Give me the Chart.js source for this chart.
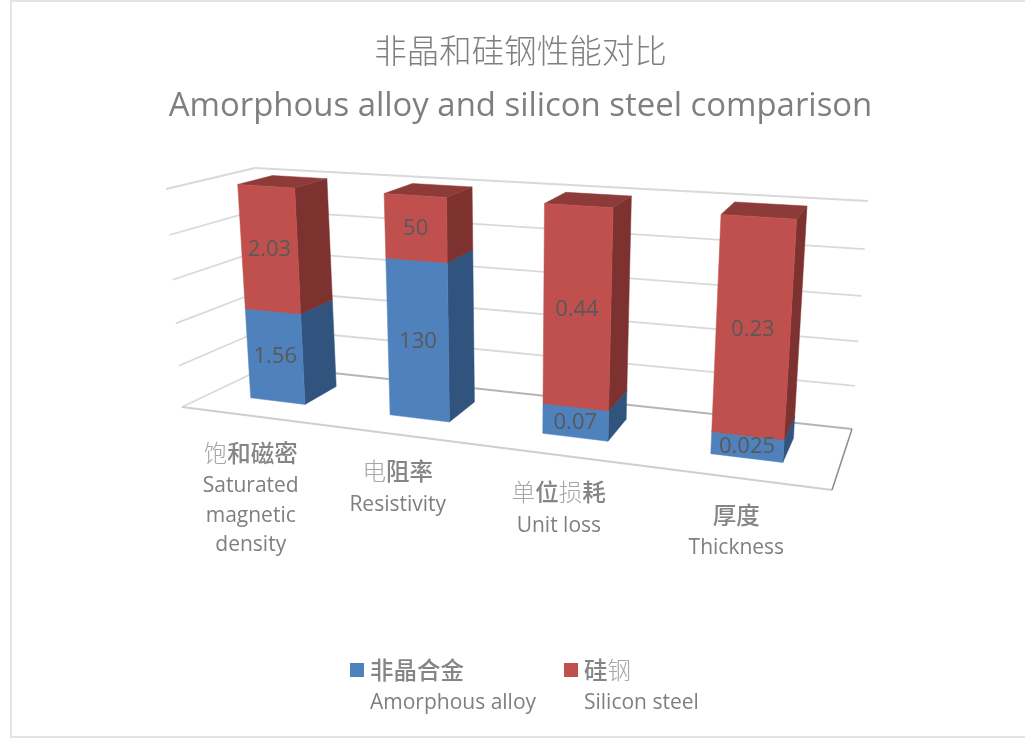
<!DOCTYPE html>
<html>
<head>
<meta charset="utf-8">
<title>非晶和硅钢性能对比</title>
<script src="https://cdn.jsdelivr.net/npm/chart.js@4"></script>
<style>
  html, body { margin: 0; padding: 0; background: #fff; }
  canvas { display: block; }
</style>
</head>
<body>
<canvas id="chart" width="1025" height="742"></canvas>
<script>
const titleZh = '非晶和硅钢性能对比';
const titleEn = 'Amorphous alloy and silicon steel comparison';
const categoriesZh = ['饱和磁密', '电阻率', '单位损耗', '厚度'];
const categoriesEn = [['Saturated', 'magnetic', 'density'], ['Resistivity'], ['Unit loss'], ['Thickness']];
const seriesZh = ['非晶合金', '硅钢'];
const seriesEn = ['Amorphous alloy', 'Silicon steel'];
const amorphousValues = [1.56, 130, 0.07, 0.025];
const siliconValues = [2.03, 50, 0.44, 0.23];

const FONT = '"Open Sans", "Noto Sans CJK SC", sans-serif';
const CJK_FONT = '"Noto Sans CJK SC", sans-serif';
// these glyphs fell back to a thin face in the original picture
const THIN_CHARS = '饱电单损钢';

const barColors = ['#4f81bd', '#c0504d'];
const sideColors = ['#31547f', '#7d3230'];
const topColors = ['#3a6390', '#8d3b39'];

// corners of the 3d plot box on screen
const BOX = {
  fbl: [182, 407], fbr: [832, 490], bbl: [268, 366], bbr: [852, 429],
  ftl: [166, 189], ftr: [849, 234], btl: [255, 168], btr: [868, 201],
};
const PERSP_X = 1.208;
const PERSP_Y = 1.07;
const BAR_FRONT = 0.34;
const BAR_BACK = 0.75;

function mix(a, b, t) {
  return [a[0] + (b[0] - a[0]) * t, a[1] + (b[1] - a[1]) * t];
}

// u along categories, v up the value axis, d into the depth (all 0..1)
function project(u, v, d) {
  const s = u / (u + PERSP_X * (1 - u));
  const t = v / (v + PERSP_Y * (1 - v));
  const front = mix(mix(BOX.fbl, BOX.fbr, s), mix(BOX.ftl, BOX.ftr, s), t);
  const back = mix(mix(BOX.bbl, BOX.bbr, s), mix(BOX.btl, BOX.btr, s), t);
  return mix(front, back, d);
}

function poly(ctx, pts, color) {
  ctx.beginPath();
  pts.forEach((p, i) => (i ? ctx.lineTo(p[0], p[1]) : ctx.moveTo(p[0], p[1])));
  ctx.closePath();
  ctx.fillStyle = color;
  ctx.strokeStyle = color;
  ctx.lineWidth = 0.5;
  ctx.fill();
  ctx.stroke();
}

function line(ctx, a, b, color, width) {
  ctx.beginPath();
  ctx.moveTo(a[0], a[1]);
  ctx.lineTo(b[0], b[1]);
  ctx.strokeStyle = color;
  ctx.lineWidth = width;
  ctx.stroke();
}

// Chinese text, one glyph at a time so thin and heavy glyphs can mix
function drawZh(ctx, text, x, y, size, align) {
  const startX = align === 'center' ? x - (text.length * size) / 2 : x;
  ctx.textAlign = 'left';
  ctx.textBaseline = 'middle';
  Array.from(text).forEach((ch, i) => {
    const thin = THIN_CHARS.includes(ch);
    ctx.font = (thin ? '300 ' : '500 ') + size + 'px ' + CJK_FONT;
    ctx.fillStyle = thin ? '#a6a6a6' : '#858585';
    ctx.fillText(ch, startX + i * size, y);
  });
}

const scene3d = {
  id: 'scene3d',
  beforeDatasetsDraw(chart) {
    const { ctx, chartArea: area, scales } = chart;
    const toU = (px) => (px - area.left) / area.width;
    const toV = (px) => (area.bottom - px) / area.height;

    ctx.save();

    // outer frame, its right side falls off the picture
    ctx.strokeStyle = '#e4e4e4';
    ctx.lineWidth = 2;
    ctx.beginPath();
    ctx.moveTo(1030, 1);
    ctx.lineTo(11, 1);
    ctx.lineTo(11, 737);
    ctx.lineTo(1030, 737);
    ctx.stroke();

    // gridlines on the side and back walls
    scales.y.ticks.forEach((tick) => {
      if (tick.value === 0) return;
      const v = toV(scales.y.getPixelForValue(tick.value));
      const mid = project(0, v, 1);
      line(ctx, project(0, v, 0), mid, '#d9d9d9', 1.8);
      line(ctx, mid, project(1, v, 1), '#d9d9d9', 1.8);
    });

    // floor
    line(ctx, project(0, 0, 0), project(0, 0, 1), '#d9d9d9', 1.8);
    line(ctx, project(0, 0, 1), project(1, 0, 1), '#b5b5b5', 1.8);
    line(ctx, project(0, 0, 0), project(1, 0, 0), '#cfcfcf', 2);
    line(ctx, project(1, 0, 0), project(1, 0, 1), '#8c8c8c', 1.5);

    // columns
    categoriesZh.forEach((name, c) => {
      chart.data.datasets.forEach((ds, i) => {
        const bar = chart.getDatasetMeta(i).data[c];
        const u0 = toU(bar.x - bar.width / 2);
        const u1 = toU(bar.x + bar.width / 2);
        const v0 = toV(bar.base);
        const v1 = toV(bar.y);
        poly(ctx, [project(u1, v0, BAR_FRONT), project(u1, v0, BAR_BACK), project(u1, v1, BAR_BACK), project(u1, v1, BAR_FRONT)], sideColors[i]);
        poly(ctx, [project(u0, v1, BAR_FRONT), project(u1, v1, BAR_FRONT), project(u1, v1, BAR_BACK), project(u0, v1, BAR_BACK)], topColors[i]);
        poly(ctx, [project(u0, v0, BAR_FRONT), project(u1, v0, BAR_FRONT), project(u1, v1, BAR_FRONT), project(u0, v1, BAR_FRONT)], ds.backgroundColor);
      });
    });

    // value labels sit in the middle of each front face
    chart.data.datasets.forEach((ds, i) => {
      chart.getDatasetMeta(i).data.forEach((bar, c) => {
        const um = toU(bar.x);
        const p = project(um, (toV(bar.base) + toV(bar.y)) / 2, BAR_FRONT);
        ctx.font = '22px ' + FONT;
        ctx.textAlign = 'center';
        ctx.textBaseline = 'middle';
        ctx.fillStyle = '#595959';
        ctx.fillText(String(ds.rawValues[c]), p[0], p[1]);
      });
    });

    // category labels hang off the front floor edge
    categoriesZh.forEach((name, c) => {
      const p = project(toU(scales.x.getPixelForTick(c)), 0, 0);
      const x = p[0];
      const y = p[1] + 37;
      drawZh(ctx, name, x, y, 23.5, 'center');
      ctx.font = '21px ' + FONT;
      ctx.textAlign = 'center';
      ctx.textBaseline = 'middle';
      ctx.fillStyle = '#7f7f7f';
      categoriesEn[c].forEach((text, n) => ctx.fillText(text, x, y + 33.5 + n * 29.5));
    });

    // legend
    [[350, 370], [564, 584]].forEach((pos, i) => {
      ctx.fillStyle = barColors[i];
      ctx.fillRect(pos[0], 663, 14, 14);
      drawZh(ctx, seriesZh[i], pos[1], 670, 23.5, 'left');
      ctx.font = '21px ' + FONT;
      ctx.textAlign = 'left';
      ctx.textBaseline = 'middle';
      ctx.fillStyle = '#7f7f7f';
      ctx.fillText(seriesEn[i], pos[1], 703);
    });

    ctx.restore();
    return false;
  },
};

new Chart(document.getElementById('chart'), {
  type: 'bar',
  data: {
    labels: categoriesEn.map((lines) => lines.join(' ')),
    datasets: [
      {
        label: seriesEn[0],
        data: amorphousValues.map((v, i) => (v / (v + siliconValues[i])) * 100),
        rawValues: amorphousValues,
        backgroundColor: barColors[0],
      },
      {
        label: seriesEn[1],
        data: siliconValues.map((v, i) => (v / (v + amorphousValues[i])) * 100),
        rawValues: siliconValues,
        backgroundColor: barColors[1],
      },
    ],
  },
  options: {
    responsive: false,
    animation: false,
    devicePixelRatio: 1,
    layout: { padding: { left: 16, top: 8 } },
    datasets: { bar: { categoryPercentage: 1, barPercentage: 0.4 } },
    plugins: {
      legend: { display: false },
      tooltip: { enabled: false },
      title: {
        display: true,
        text: titleZh,
        color: '#7f7f7f',
        font: { family: FONT, size: 32.5, weight: '300', lineHeight: 1.3 },
        padding: { top: 25, bottom: 0 },
      },
      subtitle: {
        display: true,
        text: titleEn,
        color: '#7f7f7f',
        font: { family: FONT, size: 32.9, weight: '400', lineHeight: 1.3 },
        padding: { top: 10, bottom: 10 },
      },
    },
    scales: {
      x: { stacked: true, display: false },
      y: { stacked: true, display: false, min: 0, max: 100, ticks: { stepSize: 20 } },
    },
  },
  plugins: [scene3d],
});
</script>
</body>
</html>
